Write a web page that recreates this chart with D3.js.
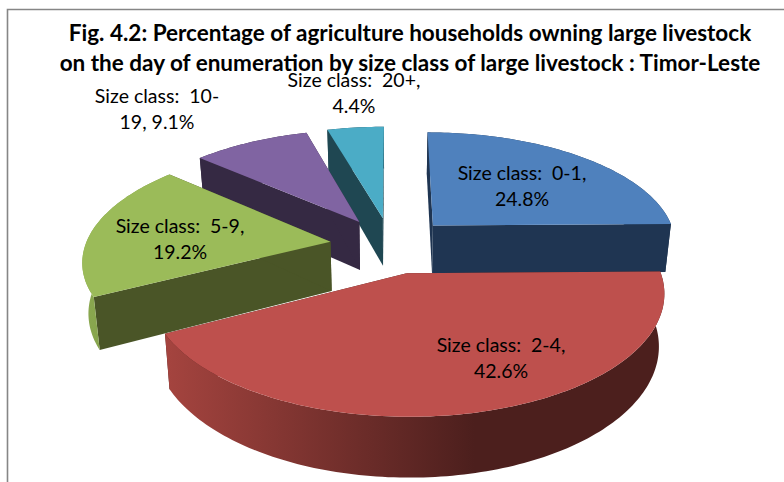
<!DOCTYPE html>
<html><head><meta charset="utf-8">
<script src="https://cdn.jsdelivr.net/npm/d3@7/dist/d3.min.js"></script>
<style>html,body{margin:0;padding:0;background:#fff;overflow:hidden}svg{display:block}text{white-space:pre;font-family:Lato,"Open Sans",sans-serif;fill:#000}</style>
</head><body><svg id="c" width="784" height="482"></svg>
<script>
const categories = ["Size class:  0-1", "Size class:  2-4", "Size class:  5-9", "Size class:  10-19", "Size class:  20+"];
const values = [24.8, 42.6, 19.2, 9.1, 4.4];
const titleLines = ["Fig. 4.2: Percentage of agriculture households owning large livestock",
                    "on the day of enumeration by size class of large livestock : Timor-Leste"];
const labelLines = [["Size class:  0-1,", "24.8%"], ["Size class:  2-4,", "42.6%"], ["Size class:  5-9,", "19.2%"],
                    ["Size class:  10-", "19, 9.1%"], ["Size class:  20+,", "4.4%"]];

// layout
const W = 784, H = 482;
const labelAt = [[522,180],[501,352],[180,233],[157,103],[354,87]];
const topCol  = ["#4f81bd","#be504d","#9bbb59","#8064a2","#4bacc6"];
const faceCol = ["#1f3552","#4a1f1c","#4a5527","#352943","#1f4752"];
const wallStops = [
  [["0","#1f3552"],["1","#1f3552"]],
  [["0","#a5443f"],["0.62","#4c1f1d"],["1","#4c1f1d"]],
  [["0","#8aa84f"],["1","#7c9a46"]],
  [["0","#352943"],["1","#352943"]],
  [["0","#1f4752"],["1","#1f4752"]]
];
const paintOrder = [4,3,0,2,1];
const cx = 391, cy = 245, Rx = 245, Ry = 112.5, persp = 0.15, explode = 0.25, depth = 49.5, baseShrink = 0.98;

const svg = d3.select("#c");
const defs = svg.append("defs");
const slices = d3.pie().sort(null).value(d => d)(values);

function project(d, theta, z) {
  const mid = (d.startAngle + d.endAngle) / 2;
  const X = explode * Math.sin(mid) + (theta == null ? 0 : Math.sin(theta));
  const V = explode * Math.cos(mid) + (theta == null ? 0 : Math.cos(theta));
  const s = 1 / (1 + persp * V);
  const shrink = z ? baseShrink : 1;
  return [cx + Rx * X * s * shrink, cy - Ry * V * s + (z ? depth * s : 0)];
}
const line = d3.line();
const arcAngles = d => { const n = Math.ceil((d.endAngle - d.startAngle) / 0.02); return d3.range(n + 1).map(i => d.startAngle + (d.endAngle - d.startAngle) * i / n); };

// frame
svg.append("path").attr("d", line([[7.5,H],[7.5,9.5],[W,9.5]])).attr("fill","none").attr("stroke","#868686").attr("stroke-width",1.6);

paintOrder.forEach(i => {
  const d = slices[i], g = svg.append("g"), angles = arcAngles(d);
  const top = angles.map(a => project(d, a, 0)), bot = angles.map(a => project(d, a, 1));
  const xs = top.map(p => p[0]);
  const grad = defs.append("linearGradient").attr("id","w"+i).attr("gradientUnits","userSpaceOnUse")
    .attr("x1", d3.min(xs)).attr("x2", d3.max(xs)).attr("y1",0).attr("y2",0);
  wallStops[i].forEach(s => grad.append("stop").attr("offset", s[0]).attr("stop-color", s[1]));
  // cut faces
  [d.startAngle, d.endAngle].forEach(a => {
    g.append("path").attr("d", line([project(d,null,0), project(d,a,0), project(d,a,1), project(d,null,1)]) + "Z").attr("fill", faceCol[i]);
  });
  // outer wall
  g.append("path").attr("d", line(top.concat(bot.slice().reverse())) + "Z").attr("fill", `url(#w${i})`);
  // top
  g.append("path").attr("d", line([project(d,null,0)].concat(top)) + "Z").attr("fill", topCol[i]);
});

// labels
labelLines.forEach((ls, i) => ls.forEach((t, j) => {
  svg.append("text").attr("x", labelAt[i][0]).attr("y", labelAt[i][1] + j * 26)
    .attr("text-anchor","middle").attr("font-size", 19.5).text(t);
}));
titleLines.forEach((t, j) => {
  svg.append("text").attr("x", 410).attr("y", 41 + j * 30).attr("text-anchor","middle")
    .attr("font-size", 22.5).attr("font-weight", 700).text(t);
});
</script></body></html>
